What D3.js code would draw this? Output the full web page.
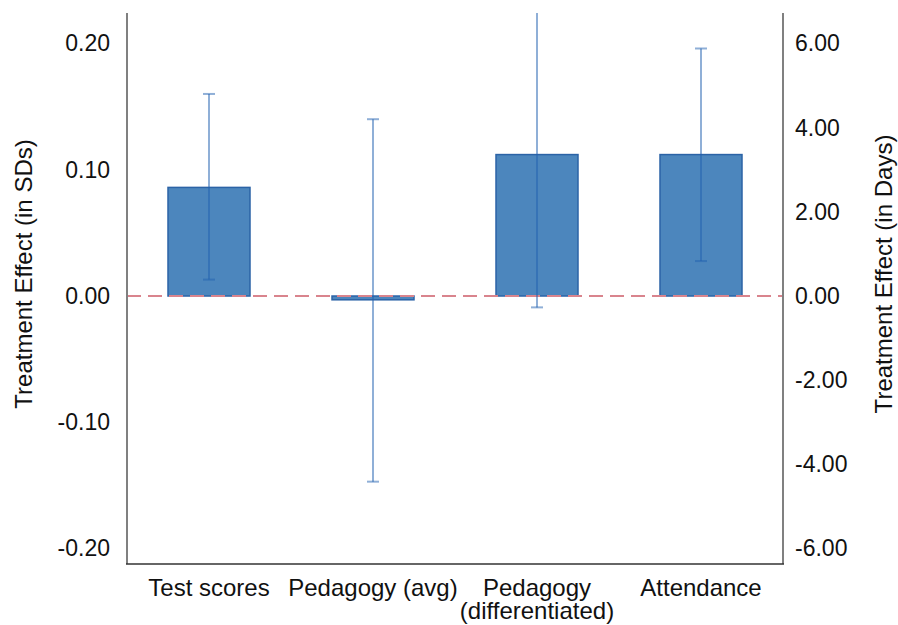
<!DOCTYPE html>
<html>
<head>
<meta charset="utf-8">
<script src="https://cdn.jsdelivr.net/npm/d3@7"></script>
<style>
  body { margin: 0; background: #fff; }
  text { font-family: "Liberation Sans", Arial, Helvetica, sans-serif; fill: #111; }
</style>
</head>
<body>
<svg width="898" height="625"></svg>
<script>
// data
var categories = ["Test scores", "Pedagogy (avg)", "Pedagogy\n(differentiated)", "Attendance"];
var units = ["sd", "sd", "sd", "days"];
var effects = [0.086, -0.003, 0.112, 3.36];
var lower = [0.013, -0.147, -0.009, 0.83];
var upper = [0.160, 0.140, 0.234, 5.88];
var sdTicks = [-0.2, -0.1, 0, 0.1, 0.2];
var dayTicks = [-6, -4, -2, 0, 2, 4, 6];

var svg = d3.select("svg"),
    width = +svg.attr("width"),
    height = +svg.attr("height");

var plot = {left: 127, right: 783, top: 13, bottom: 564};

var x = d3.scaleBand()
    .domain(categories)
    .range([plot.left, plot.right])
    .paddingInner(0.5)
    .paddingOuter(0.25);

var ySd = d3.scaleLinear()
    .domain([-0.2122, 0.2241])
    .range([plot.bottom, plot.top]);

var yDays = d3.scaleLinear()
    .domain([-0.2122 * 30, 0.2241 * 30])
    .range([plot.bottom, plot.top]);

// plain hyphen for negatives, like the original
var fmt = function(v) { return d3.format(".2f")(v).replace("\u2212", "-"); };

var rows = categories.map(function(c, i) {
  return {cat: c, y: units[i] == "sd" ? ySd : yDays, v: effects[i], lo: lower[i], hi: upper[i]};
});

svg.append("clipPath").attr("id", "clip")
  .append("rect")
    .attr("x", plot.left).attr("y", plot.top)
    .attr("width", plot.right - plot.left)
    .attr("height", plot.bottom - plot.top);

var g = svg.append("g").attr("clip-path", "url(#clip)");

// bars
g.selectAll("rect.bar")
  .data(rows)
  .enter().append("rect")
    .attr("class", "bar")
    .attr("x", function(d) { return x(d.cat); })
    .attr("width", x.bandwidth())
    .attr("y", function(d) { return d.y(Math.max(0, d.v)); })
    .attr("height", function(d) { return Math.abs(d.y(d.v) - d.y(0)); })
    .attr("fill", "#4c86bd")
    .attr("stroke", "#2b63a6")
    .attr("stroke-width", 1.5);

// zero line
g.append("line")
    .attr("x1", plot.left).attr("x2", plot.right)
    .attr("y1", ySd(0)).attr("y2", ySd(0))
    .attr("stroke", "#d9848d")
    .attr("stroke-width", 2)
    .attr("stroke-dasharray", "14,7");

// error bars (translucent: light over white, darker over the bars)
var err = g.selectAll("g.err")
  .data(rows)
  .enter().append("g")
    .attr("class", "err")
    .attr("stroke", "#1f5fb0")
    .attr("stroke-opacity", 0.5)
    .attr("stroke-width", 2);

err.append("line")
    .attr("x1", function(d) { return x(d.cat) + x.bandwidth() / 2; })
    .attr("x2", function(d) { return x(d.cat) + x.bandwidth() / 2; })
    .attr("y1", function(d) { return d.y(d.lo); })
    .attr("y2", function(d) { return d.y(d.hi); });

["lo", "hi"].forEach(function(k) {
  err.append("line")
      .attr("x1", function(d) { return x(d.cat) + x.bandwidth() / 2 - 6; })
      .attr("x2", function(d) { return x(d.cat) + x.bandwidth() / 2 + 6; })
      .attr("y1", function(d) { return d.y(d[k]); })
      .attr("y2", function(d) { return d.y(d[k]); });
});

// axes
var leftAxis = svg.append("g")
    .attr("transform", "translate(" + plot.left + ",0)")
    .call(d3.axisLeft(ySd).tickValues(sdTicks).tickSize(0).tickPadding(17).tickFormat(fmt));

var rightAxis = svg.append("g")
    .attr("transform", "translate(" + plot.right + ",0)")
    .call(d3.axisRight(yDays).tickValues(dayTicks).tickSize(0).tickPadding(12).tickFormat(fmt));

[leftAxis, rightAxis].forEach(function(a) {
  a.select(".domain").remove();
  a.selectAll("text")
      .style("font-size", "23px")
      .attr("fill", "#111");
});

svg.append("line")
    .attr("x1", plot.left).attr("x2", plot.left)
    .attr("y1", plot.top).attr("y2", plot.bottom)
    .attr("stroke", "#808080").attr("stroke-width", 2);
svg.append("line")
    .attr("x1", plot.right).attr("x2", plot.right)
    .attr("y1", plot.top).attr("y2", plot.bottom)
    .attr("stroke", "#808080").attr("stroke-width", 2);
svg.append("line")
    .attr("x1", plot.left - 1).attr("x2", plot.right + 1)
    .attr("y1", plot.bottom).attr("y2", plot.bottom)
    .attr("stroke", "#333").attr("stroke-width", 1.5);

// category labels
svg.append("g").selectAll("text")
  .data(categories)
  .enter().append("text")
    .attr("x", function(d) { return x(d) + x.bandwidth() / 2; })
    .attr("y", 596)
    .attr("text-anchor", "middle")
    .style("font-size", "24px")
    .each(function(d) {
      var lines = d.split("\n");
      var t = d3.select(this);
      lines.forEach(function(l, i) {
        t.append("tspan")
            .attr("x", x(d) + x.bandwidth() / 2)
            .attr("dy", i == 0 ? 0 : 23)
            .text(l);
      });
    });

// axis titles
svg.append("text")
    .attr("transform", "translate(32,274) rotate(-90)")
    .attr("text-anchor", "middle")
    .style("font-size", "24px")
    .text("Treatment Effect (in SDs)");

svg.append("text")
    .attr("transform", "translate(892,274) rotate(-90)")
    .attr("text-anchor", "middle")
    .style("font-size", "24px")
    .text("Treatment Effect (in Days)");
</script>
</body>
</html>
